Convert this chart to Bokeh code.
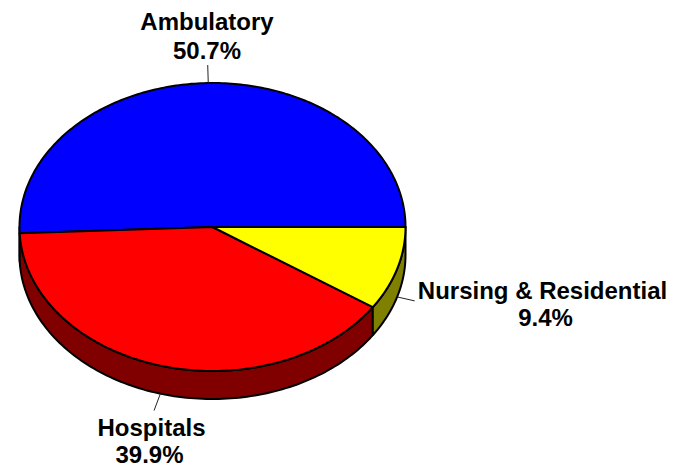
import numpy as np
from bokeh.plotting import figure
from bokeh.models import Range1d
from bokeh.embed import file_html
from bokeh.resources import INLINE
from bokeh.core.properties import value

# ---- data ----
categories = ["Ambulatory", "Hospitals", "Nursing & Residential"]
shares = [50.7, 39.9, 9.4]
pct_labels = ["50.7%", "39.9%", "9.4%"]

# ---- styles / layout ----
top_colors = ["#0000FF", "#FF0000", "#FFFF00"]
side_colors = ["#000080", "#800000", "#808000"]
W, H = 673, 468
CX, CY = 212.0, 226.5
RX, RY = 193.0, 144.0
DEPTH = 28.0
LEADER = 18.0
FONT = value("Liberation Sans")
FONT_SIZE = "24px"
MID_SHIFT = 8.3          # baseline sits this far below a "middle" anchor

p = figure(width=W, height=H, x_range=Range1d(0, W), y_range=Range1d(H, 0),
           output_backend="svg", toolbar_location=None, min_border=0,
           x_axis_location=None, y_axis_location=None)
p.grid.visible = False
p.outline_line_color = None
p.background_fill_color = "white"
p.border_fill_color = "white"


def rim(theta_deg, drop=0.0):
    t = np.radians(theta_deg)
    return CX + RX * np.cos(t), CY - RY * np.sin(t) + drop


total = float(sum(shares))
bounds = np.concatenate([[0.0], np.cumsum(shares) / total * 360.0])

# side walls (front half: 180..360 deg)
side_xs, side_ys, side_fc = [], [], []
for i in range(len(shares)):
    a0, a1 = max(bounds[i], 180.0), min(bounds[i + 1], 360.0)
    if a1 <= a0:
        continue
    th = np.linspace(a0, a1, 120)
    xt, yt = rim(th)
    xb, yb = rim(th[::-1], DEPTH)
    side_xs.append(list(np.concatenate([xt, xb])))
    side_ys.append(list(np.concatenate([yt, yb])))
    side_fc.append(side_colors[i])
p.patches(side_xs, side_ys, fill_color=side_fc, line_color="black",
          line_width=2, line_join="round")

# top faces
top_xs, top_ys = [], []
for i in range(len(shares)):
    th = np.linspace(bounds[i], bounds[i + 1], 200)
    xt, yt = rim(th)
    top_xs.append([CX] + list(xt))
    top_ys.append([CY] + list(yt))
p.patches(top_xs, top_ys, fill_color=top_colors, line_color="black",
          line_width=2, line_join="round")

# leader lines from the middle of each slice
lx0, ly0, lx1, ly1 = [], [], [], []
for i in range(len(shares)):
    mid = (bounds[i] + bounds[i + 1]) / 2.0
    t = np.radians(mid)
    drop = DEPTH if np.sin(t) < 0 else 0.0
    x0, y0 = rim(mid, drop)
    dx, dy = RX * np.cos(t), -RY * np.sin(t)
    n = np.hypot(dx, dy)
    lx0.append(x0); ly0.append(y0)
    lx1.append(x0 + LEADER * dx / n); ly1.append(y0 + LEADER * dy / n)
p.segment(lx0, ly0, lx1, ly1, line_color="#222222", line_width=1)

# labels (name line + percent line); positions are text baselines
name_x = [206.5, 151.0, 542.0]
pct_x = [206.5, 149.0, 545.0]
name_base = [29.0, 435.0, 298.0]
pct_base = [58.0, 462.0, 325.0]
p.text(name_x, [b - MID_SHIFT for b in name_base], text=categories, text_font=FONT,
       text_font_style="bold", text_font_size=FONT_SIZE, text_align="center",
       text_baseline="middle", text_color="black")
p.text(pct_x, [b - MID_SHIFT for b in pct_base], text=pct_labels, text_font=FONT,
       text_font_style="bold", text_font_size=FONT_SIZE, text_align="center",
       text_baseline="middle", text_color="black")

open("out.html", "w").write(file_html(p, INLINE))
